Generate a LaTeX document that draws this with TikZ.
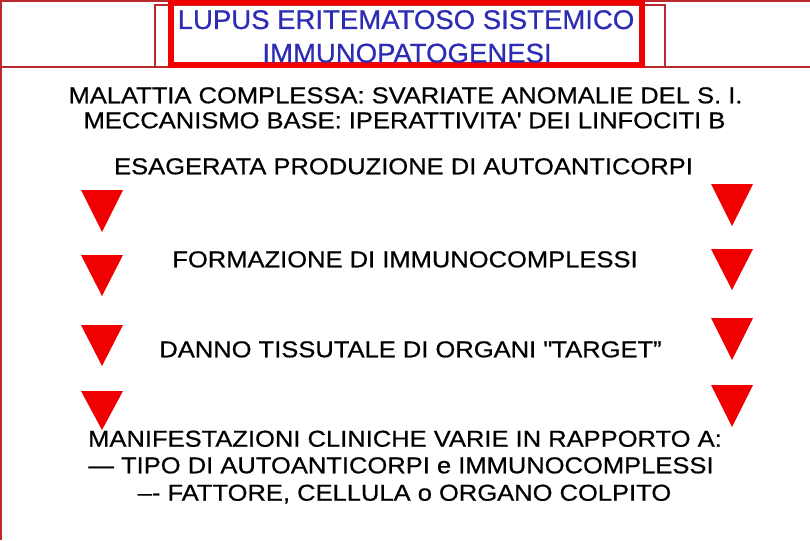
\documentclass[tikz,border=0pt]{standalone}
\usepackage{fontspec}
\setmainfont{Liberation Sans}
\newfontfamily\bodyfont{Liberation Sans}[FakeStretch=1.11,FakeBold=0.6]
\newfontfamily\titlefont{Liberation Sans}[FakeStretch=1.02,FakeBold=0.6]
\definecolor{darkline}{RGB}{185,40,45}
\definecolor{boxred}{RGB}{245,0,0}
\definecolor{titleblue}{RGB}{45,45,180}
\definecolor{trired}{RGB}{240,0,0}
\tikzset{
  thinline/.style={draw=darkline,line width=1.2pt},
  thickbox/.style={draw=boxred,line width=6pt},
  titletxt/.style={anchor=base,inner sep=0pt,text=titleblue,font=\titlefont\fontsize{27}{30}\selectfont},
  bodytxt/.style={anchor=base,inner sep=0pt,text=black,font=\bodyfont\fontsize{23}{27.5}\selectfont},
  tri/.style={fill=trired}
}
\begin{document}
\begin{tikzpicture}[x=1pt,y=-1pt]
\useasboundingbox (0,0) rectangle (810,540);
% frame lines
\draw[thinline] (1,0) -- (1,540);
\draw[thinline] (0,1) -- (810,1);
\draw[thinline] (0,67) -- (810,67);
\draw[thinline] (155,5) rectangle (665,67);
\draw[thickbox] (171,2) rectangle (642,65);
% title
\node[titletxt] (t1) at (406,29) {LUPUS ERITEMATOSO SISTEMICO};
\node[titletxt] (t2) at (407,62.5) {IMMUNOPATOGENESI};
% body text
\node[bodytxt] (b1) at (405.5,103.3) {MALATTIA COMPLESSA: SVARIATE ANOMALIE DEL S. I.};
\node[bodytxt] (b2) at (404.5,128.3) {MECCANISMO BASE: IPERATTIVITA\textquotesingle{} DEI LINFOCITI B};
\node[bodytxt] (b3) at (403.5,174.3) {ESAGERATA PRODUZIONE DI AUTOANTICORPI};
\node[bodytxt] (b4) at (405,267.3) {FORMAZIONE DI IMMUNOCOMPLESSI};
\node[bodytxt] (b5) at (410.5,357.3) {DANNO TISSUTALE DI ORGANI \textquotedbl TARGET”};
\node[bodytxt] (b6) at (405,446.7) {MANIFESTAZIONI CLINICHE VARIE IN RAPPORTO A:};
\node[bodytxt] (b7) at (401,473.3) {— TIPO DI AUTOANTICORPI e IMMUNOCOMPLESSI};
\node[bodytxt] (b8) at (404.5,500.7) {–- FATTORE, CELLULA o ORGANO COLPITO};
% left triangles
\fill[tri] (81,190) -- (123,190) -- (102,232) -- cycle;
\fill[tri] (81,255) -- (123,255) -- (102,296) -- cycle;
\fill[tri] (81,325) -- (123,325) -- (102,366) -- cycle;
\fill[tri] (81,391) -- (123,391) -- (102,430) -- cycle;
% right triangles
\fill[tri] (711,184) -- (753,184) -- (732,226) -- cycle;
\fill[tri] (711,249) -- (753,249) -- (732,290) -- cycle;
\fill[tri] (711,318) -- (753,318) -- (732,360) -- cycle;
\fill[tri] (711,385) -- (753,385) -- (732,427) -- cycle;
\end{tikzpicture}
\end{document}
